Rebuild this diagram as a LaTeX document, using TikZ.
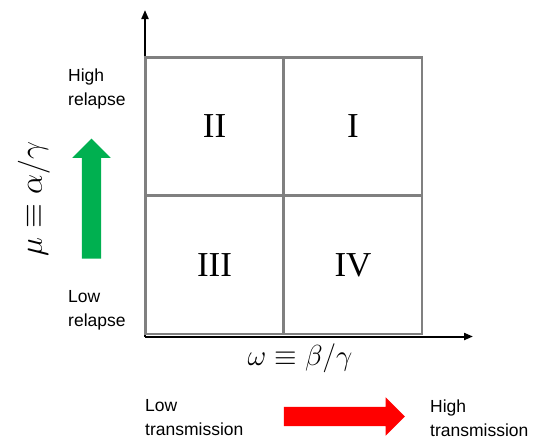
\RequirePackage{fix-cm}
\documentclass[tikz,border=0pt]{standalone}
\usepackage{fontspec}
\setsansfont{Liberation Sans}
\newfontfamily\quadfont{Liberation Serif}
\usepackage{tikz}
\usetikzlibrary{arrows.meta,positioning,shapes.arrows}
\definecolor{boxgray}{RGB}{128,128,128}
\definecolor{upgreen}{RGB}{0,176,80}
\definecolor{rightred}{RGB}{255,0,0}

\begin{document}
\begin{tikzpicture}[
  x=1pt, y=-1pt,
  cell/.style={rectangle, draw=boxgray, line width=2.2pt, minimum width=138pt,
               minimum height=138pt, inner sep=0pt, font=\quadfont\fontsize{35}{40}\selectfont},
  lbl/.style={font=\sffamily\fontsize{17.5}{24}\selectfont, align=left, inner sep=0pt},
  bigarr/.style={single arrow, single arrow head extend=9.5pt, minimum width=38pt,
                 minimum height=120pt, inner xsep=0pt, inner ysep=9.5pt, draw=none},
  axis/.style={-{Triangle[length=9pt,width=7pt]}, line width=2pt}
]
\useasboundingbox (0,0) rectangle (538,439);

% Axes
\coordinate (origin) at (145,336.5);
\coordinate (ytip) at (145,10);
\coordinate (xtip) at (473,336.5);
\draw[axis] (origin) -- (ytip);
\draw[axis] (origin) -- (xtip);

% Quadrants
\node[cell] (q2) at (214.5,126.5) {II};
\node[cell] (q1) at (353,126.5) {I};
\node[cell] (q3) at (214.5,265) {III};
\node[cell] (q4) at (353,265) {IV};

% Axis labels
\node[font=\fontsize{32}{36}\selectfont, rotate=90] (mu) at (34,199) {$\mu \equiv \alpha/\gamma$};
\node[font=\fontsize{29}{32}\selectfont] (om) at (300,358) {$\omega \equiv \beta/\gamma$};

% Relapse side
\node[lbl, anchor=west] (hirel) at (68,89) {High\\relapse};
\node[lbl, anchor=west] (lorel) at (68,310) {Low\\relapse};
\node[bigarr, fill=upgreen, rotate=90] (garr) at (91.5,203.5) {};

% Transmission side
\node[lbl, anchor=west] (lotr) at (145,418) {Low\\transmission};
\node[lbl, anchor=west] (hitr) at (430,418) {High\\transmission};
\node[bigarr, fill=rightred, minimum height=121pt] (rarr) at (339.5,416.5) {};
\end{tikzpicture}
\end{document}
